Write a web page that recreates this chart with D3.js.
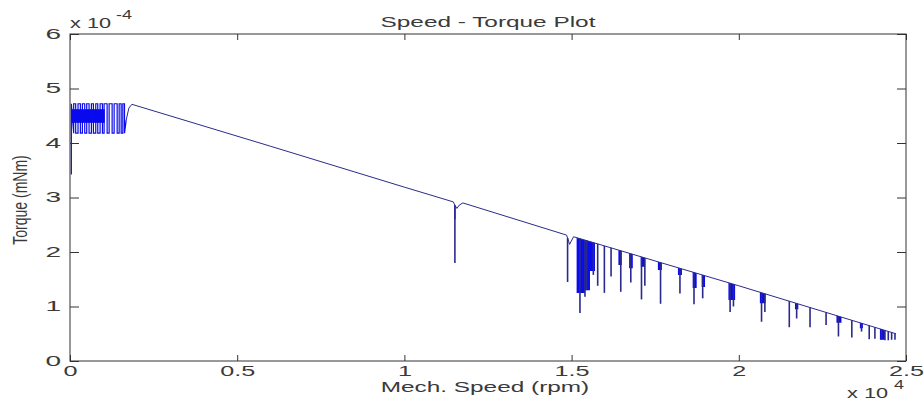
<!DOCTYPE html>
<html>
<head>
<meta charset="utf-8">
<script src="https://cdnjs.cloudflare.com/ajax/libs/d3/7.8.5/d3.min.js"></script>
<style>
  body { margin: 0; background: #fff; }
  text { font-family: "Liberation Sans", Arial, sans-serif; fill: #3a3a3a; }
</style>
</head>
<body>
<svg id="chart" width="924" height="402"></svg>
<script>
// speed in units of 1e4 rpm, torque in units of 1e-4 mNm
const xTicks = [0, 0.5, 1, 1.5, 2, 2.5];
const yTicks = [0, 1, 2, 3, 4, 5, 6];

// main torque line
const lineSpeed  = [0.168, 0.176, 0.185, 0.60, 1.00, 1.146, 1.151, 1.157, 1.164, 1.175, 1.485, 1.490, 1.494, 1.499, 1.506, 2.00, 2.47];
const lineTorque = [4.42, 4.64, 4.71, 3.94, 3.19, 2.92, 2.86, 2.80, 2.86, 2.90, 2.31, 2.22, 2.14, 2.20, 2.28, 1.38, 0.50];

// start-up oscillation
const noiseSpeed = [0.004, 0.011, 0.017, 0.024, 0.031, 0.037, 0.044, 0.050, 0.057, 0.064, 0.070, 0.077,
                    0.083, 0.090, 0.097, 0.102, 0.111, 0.117, 0.126, 0.132, 0.141, 0.147, 0.153, 0.158, 0.163];
const noiseRange = [4.18, 4.72];
const noiseStart = 3.42;
const noiseCore = [0.004, 0.104, 4.37, 4.62];

// downward spikes: speed, lowest torque
const spikeSpeed = [1.151, 1.488, 1.525, 1.540, 1.545, 1.565, 1.578, 1.598, 1.618, 1.647, 1.677, 1.709, 1.719,
                    1.766, 1.824, 1.866, 1.892, 1.974, 1.984, 2.068, 2.078, 2.151, 2.173, 2.213, 2.261, 2.298,
                    2.338, 2.367, 2.390, 2.407, 2.427, 2.437, 2.447, 2.457, 2.467];
const spikeLow   = [1.80, 1.45, 0.88, 1.18, 1.30, 1.58, 1.38, 1.25, 1.55, 1.27, 1.44, 1.13, 1.38,
                    1.05, 1.24, 1.04, 1.15, 0.90, 1.00, 0.72, 0.90, 0.62, 0.78, 0.62, 0.66, 0.45,
                    0.43, 0.54, 0.40, 0.41, 0.39, 0.38, 0.38, 0.39, 0.39];

// dense filled stretches: start, end, lowest torque
const bandStart = [1.149, 1.515, 1.540, 1.555, 1.640, 1.672, 1.707, 1.758, 1.818, 1.862, 1.889, 1.969, 2.063, 2.168, 2.292, 2.362, 2.422];
const bandEnd   = [1.153, 1.540, 1.555, 1.570, 1.650, 1.683, 1.720, 1.770, 1.830, 1.874, 1.899, 1.989, 2.080, 2.178, 2.307, 2.371, 2.437];
const bandLow   = [2.60, 1.25, 1.30, 1.65, 1.76, 1.70, 1.73, 1.67, 1.58, 1.34, 1.36, 1.12, 1.06, 0.95, 0.70, 0.60, 0.39];

const svg = d3.select('#chart');
const W = 924, H = 402;
const m = { left: 70, right: 906, top: 34, bottom: 361 };

svg.append('rect').attr('width', W).attr('height', H).attr('fill', '#fff');

const x = d3.scaleLinear().domain([0, 2.5]).range([m.left, m.right]);
const y = d3.scaleLinear().domain([0, 6]).range([m.bottom, m.top]);

const lineColor = '#2a2a8c';
const fillColor = '#0a0aee';

function torqueAt(s) {
  let i = d3.bisectRight(lineSpeed, s);
  i = Math.max(1, Math.min(lineSpeed.length - 1, i));
  const t = (s - lineSpeed[i - 1]) / (lineSpeed[i] - lineSpeed[i - 1]);
  return d3.interpolateNumber(lineTorque[i - 1], lineTorque[i])(t);
}

const plot = svg.append('g');

// start-up block
plot.append('rect')
  .attr('x', x(noiseCore[0])).attr('width', x(noiseCore[1]) - x(noiseCore[0]))
  .attr('y', y(noiseCore[3])).attr('height', y(noiseCore[2]) - y(noiseCore[3]))
  .attr('fill', fillColor);

const noisePts = [[noiseSpeed[0], noiseStart]];
noiseSpeed.forEach((s, i) => {
  const a = i % 2 === 0 ? noiseRange[1] : noiseRange[0];
  const b = i % 2 === 0 ? noiseRange[0] : noiseRange[1];
  if (i > 0) noisePts.push([s, a]);
  noisePts.push([s, i === 0 ? noiseRange[1] : b]);
});
noisePts.push([lineSpeed[0], lineTorque[0]]);

const line = d3.line().x(d => x(d[0])).y(d => y(d[1]));

plot.append('path')
  .attr('d', line(noisePts))
  .attr('fill', 'none').attr('stroke', fillColor).attr('stroke-width', 1.2);

// dense bands
const area = d3.area().x(d => x(d[0])).y0(d => y(d[1])).y1(d => y(d[2]));
bandStart.forEach((s, i) => {
  plot.append('path')
    .attr('d', area([[s, bandLow[i], torqueAt(s)], [bandEnd[i], bandLow[i], torqueAt(bandEnd[i])]]))
    .attr('fill', fillColor);
});

// main line
plot.append('path')
  .attr('d', line(lineSpeed.map((s, i) => [s, lineTorque[i]])))
  .attr('fill', 'none').attr('stroke', lineColor).attr('stroke-width', 1);

// spikes
plot.selectAll('.spike')
  .data(spikeSpeed)
  .join('path')
  .attr('class', 'spike')
  .attr('d', (s, i) => line([[s, torqueAt(s)], [s, spikeLow[i]]]))
  .attr('stroke', lineColor).attr('stroke-width', 1.6);

// axes (ticks inside, box on)
const fmt = d => d3.format('~g')(d);
const axisColor = '#333';

const gx = svg.append('g').attr('transform', `translate(0,${m.bottom})`)
  .call(d3.axisBottom(x).tickValues(xTicks).tickFormat(fmt).tickSizeInner(-6).tickSizeOuter(0).tickPadding(5));
const gxt = svg.append('g').attr('transform', `translate(0,${m.top})`)
  .call(d3.axisTop(x).tickValues(xTicks).tickFormat('').tickSizeInner(-6).tickSizeOuter(0));
const gy = svg.append('g').attr('transform', `translate(${m.left},0)`)
  .call(d3.axisLeft(y).tickValues(yTicks).tickFormat(fmt).tickSizeInner(-9).tickSizeOuter(0).tickPadding(9));
const gyr = svg.append('g').attr('transform', `translate(${m.right},0)`)
  .call(d3.axisRight(y).tickValues(yTicks).tickFormat('').tickSizeInner(-9).tickSizeOuter(0));

[gx, gxt, gy, gyr].forEach(g => {
  g.select('.domain').remove();
  g.selectAll('line').attr('stroke', axisColor);
  g.selectAll('text').attr('font-size', 14).attr('fill', '#3a3a3a')
    .style('font-family', '"Liberation Sans", Arial, sans-serif');
});

svg.append('rect')
  .attr('x', m.left).attr('y', m.top)
  .attr('width', m.right - m.left).attr('height', m.bottom - m.top)
  .attr('fill', 'none').attr('stroke', axisColor).attr('stroke-width', 1);

// MATLAB-like wide text
function stretch(sel, f) {
  sel.each(function () {
    const w = this.getComputedTextLength();
    d3.select(this).attr('textLength', w * f).attr('lengthAdjust', 'spacingAndGlyphs');
  });
}
stretch(gx.selectAll('text'), 1.8);
stretch(gy.selectAll('text'), 2.0);

const title = svg.append('text')
  .attr('x', (m.left + m.right) / 2).attr('y', 27)
  .attr('text-anchor', 'middle').attr('font-size', 14)
  .text('Speed - Torque Plot');
stretch(title, 1.74);

const xlab = svg.append('text')
  .attr('x', 485).attr('y', 392)
  .attr('text-anchor', 'middle').attr('font-size', 14)
  .text('Mech. Speed (rpm)');
stretch(xlab, 1.74);

svg.append('text')
  .attr('transform', 'translate(27,200) rotate(-90) scale(1,1.4)')
  .attr('text-anchor', 'middle').attr('font-size', 14)
  .text('Torque (mNm)');

// exponent labels
const e1 = svg.append('text').attr('x', 70).attr('y', 28).attr('font-size', 14).text('x 10');
stretch(e1, 1.55);
const e1s = svg.append('text').attr('x', 116).attr('y', 19).attr('font-size', 12).text('-4');
stretch(e1s, 1.5);

const e2 = svg.append('text').attr('x', 847).attr('y', 398).attr('font-size', 14).text('x 10');
stretch(e2, 1.55);
const e2s = svg.append('text').attr('x', 894).attr('y', 389).attr('font-size', 12).text('4');
stretch(e2s, 1.5);
</script>
</body>
</html>
